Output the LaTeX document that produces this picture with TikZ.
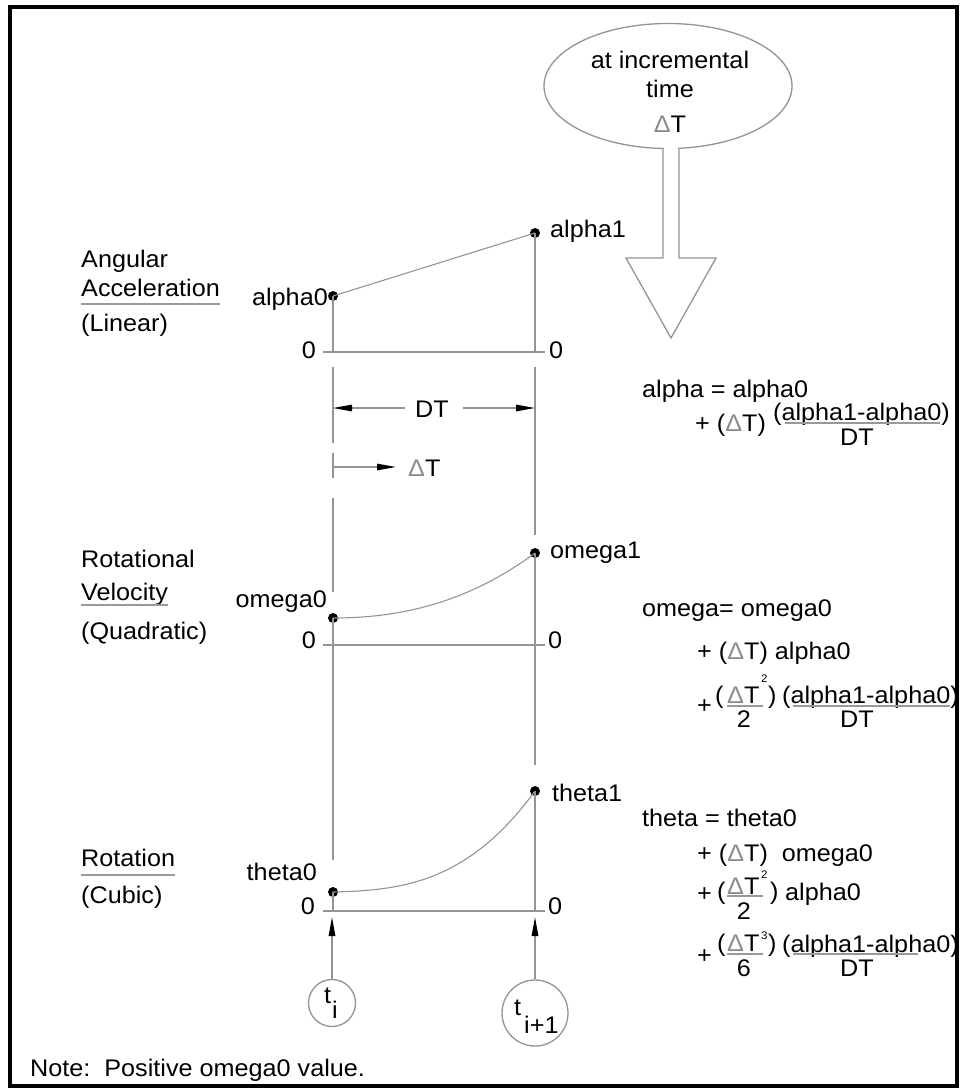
\documentclass[tikz,border=0pt]{standalone}
\usepackage{fontspec}
\setmainfont{Liberation Sans}[FakeStretch=1.05]
\usetikzlibrary{arrows.meta}
\newcommand\fs{\fontsize{24}{28}\selectfont}
\newcommand\sfs{\fontsize{11}{12}\selectfont}
\newcommand\Dl{{\color{black!45}Δ}}
\begin{document}
\begin{tikzpicture}[x=1pt,y=-1pt,
  ln/.style={draw=black!42, line width=1.3pt},
  tx/.style={font=\fs, inner sep=0pt, anchor=base west},
  txe/.style={tx, anchor=base east},
  txc/.style={tx, anchor=base},
  sup/.style={font=\sfs, inner sep=0pt, anchor=base west},
  dotc/.style={circle, fill=black, inner sep=0pt, minimum size=10pt},
  arr/.style={ln, -{Triangle[length=19pt,width=6.5pt,color=black]}},
  bar/.style={draw=black!40, line width=1.3pt},
  tcirc/.style={circle, draw=black!42, line width=1.3pt, inner sep=0pt}
]
\useasboundingbox (0,0) rectangle (964,1088);
\draw[line width=3.5pt] (10,7) rectangle (957,1086);

% ellipse and hollow arrow
\draw[ln] (668,86) ellipse [x radius=124, y radius=62.5];
\fill[white] (664,142) rectangle (678,152);
\draw[ln] (663,148.4) -- (663,258) -- (626,258) -- (671,338) -- (716,258) -- (679,258) -- (679,148.3);
\node[txc] (e1) at (670,68) {at incremental};
\node[txc] (e2) at (670,97) {time};
\node[txc] (e3) at (670,132) {\Dl T};

% left labels
\node[tx] (lAng) at (81,267) {Angular};
\node[tx] (lAcc) at (81,296) {Acceleration};
\draw[bar] ([yshift=-8pt]lAcc.base west) -- ([yshift=-8pt]lAcc.base east);
\node[tx] (lLin) at (81,331) {(Linear)};
\node[tx] (lRotl) at (81,567) {Rotational};
\node[tx] (lVel) at (81,600) {Velocity};
\draw[bar] ([yshift=-5pt]lVel.base west) -- ([yshift=-5pt]lVel.base east);
\node[tx] (lQua) at (81,639) {(Quadratic)};
\node[tx] (lRot) at (81,866) {Rotation};
\draw[bar] ([yshift=-9pt]lRot.base west) -- ([yshift=-9pt]lRot.base east);
\node[tx] (lCub) at (81,903) {(Cubic)};

% dots
\node[dotc] (a0) at (333,296) {};
\node[dotc] (a1) at (535,233) {};
\node[dotc] (w0) at (333,618) {};
\node[dotc] (w1) at (535,553) {};
\node[dotc] (h0) at (333,892) {};
\node[dotc] (h1) at (535,791) {};

% zero lines
\draw[ln] (323,352) coordinate (z1l) -- (545,352) coordinate (z1r);
\draw[ln] (323,645) coordinate (z2l) -- (545,645) coordinate (z2r);
\draw[ln] (323,911) coordinate (z3l) -- (545,911) coordinate (z3r);

% vertical lines
\draw[ln] (a0.center) -- (333,352);
\draw[ln] (333,367) -- (333,443);
\draw[ln] (333,453) -- (333,478);
\draw[ln] (333,498) -- (333,592);
\draw[ln] (w0.center) -- (333,860);
\draw[ln] (h0.center) -- (333,911);
\draw[ln] (a1.center) -- (535,352);
\draw[ln] (535,367) -- (535,535);
\draw[ln] (w1.center) -- (535,765);
\draw[ln] (h1.center) -- (535,911);

% graphs
\draw[ln, line width=1.1pt] (a0.center) -- (a1.center);
\draw[ln, line width=1.1pt] plot[domain=0:1, samples=40] ({333+202*\x}, {618-65*(0.7*\x*\x+0.3*\x*\x*\x)});
\draw[ln, line width=1.1pt] plot[domain=0:1, samples=40] ({333+202*\x}, {892-101*(0.05*\x+0.15*\x*\x+0.8*\x*\x*\x)});

% value labels
\node[txe] (la0) at (328,305) {alpha0};
\node[tx] (la1) at (550,237) {alpha1};
\node[txe] (lw0) at (327,607) {omega0};
\node[tx] (lw1) at (550,558) {omega1};
\node[txe] (lh0) at (317,880) {theta0};
\node[tx] (lh1) at (552,801) {theta1};
\node[txe] (o1l) at (316,358) {0};
\node[tx] (o1r) at (549,358) {0};
\node[txe] (o2l) at (316,648) {0};
\node[tx] (o2r) at (548,648) {0};
\node[txe] (o3l) at (315,914) {0};
\node[tx] (o3r) at (548,914) {0};

% dimensions
\node[txc] (dt) at (432,417) {DT};
\draw[arr] (405,408) -- (333,408);
\draw[arr] (463,408) -- (535,408);
\node[tx] (dT) at (408,476) {\Dl T};
\draw[arr] (333,467) -- (396,467);

% alpha equation
\node[tx] (ea1) at (642,397) {alpha = alpha0};
\node[tx] (ea2) at (695,431) {+ (\Dl T)};
\node[tx] (ea3) at (773,420) {(alpha1-alpha0)};
\draw[bar] (785,423) -- (940,423);
\node[txc] (ea4) at (857,445) {DT};

% omega equation
\node[tx] (ew1) at (642,616) {omega= omega0};
\node[tx] (ew2) at (697,659) {+ (\Dl T) alpha0};
\node[tx] (ew3) at (697,713) {+};
\node[tx] (ew4) at (715,703) {(};
\node[tx] (ew5) at (727,703) {\Dl T};
\node[sup] (ew6) at (761,682) {2};
\draw[bar] (727,706) -- (763,706);
\node[txc] (ew7) at (744,727) {2};
\node[tx] (ew8) at (768,703) {)};
\node[tx] (ew9) at (782,703) {(alpha1-alpha0)};
\draw[bar] (793,706) -- (950,706);
\node[txc] (ew10) at (857,727) {DT};

% theta equation
\node[tx] (eh1) at (642,826) {theta = theta0};
\node[tx] (eh2) at (697,861) {+ (\Dl T)\ \ omega0};
\node[tx] (eh3) at (697,901) {+};
\node[tx] (eh4) at (717,899) {(};
\node[tx] (eh5) at (727,894) {\Dl T};
\node[sup] (eh6) at (761,878) {2};
\draw[bar] (727,896) -- (763,896);
\node[txc] (eh7) at (744,919) {2};
\node[tx] (eh8) at (770,899) {)};
\node[tx] (eh9) at (785,900) {alpha0};
\node[tx] (eh10) at (697,963) {+};
\node[tx] (eh11) at (717,951) {(};
\node[tx] (eh12) at (727,951) {\Dl T};
\node[sup] (eh13) at (761,939) {3};
\draw[bar] (727,954) -- (763,954);
\node[txc] (eh14) at (744,976) {6};
\node[tx] (eh15) at (768,951) {)};
\node[tx] (eh16) at (782,952) {(alpha1-alpha0)};
\draw[bar] (793,954) -- (918,954);
\node[txc] (eh17) at (857,976) {DT};

% time circles
\node[tcirc, minimum size=47pt] (ti) at (332,1003) {};
\node[tcirc, minimum size=66pt] (ti1) at (535,1013) {};
\node[tx] (tit) at (324,1003) {t};
\node[tx] (tii) at (332,1018) {i};
\node[tx] (ti1t) at (514,1015) {t};
\node[tx] (ti1i) at (524,1033) {i+1};
\draw[arr] (ti.north) -- (332,917);
\draw[arr] (ti1.north) -- (535,917);

% note
\node[tx] (note) at (30,1076) {Note:\ \ Positive omega0 value.};
\end{tikzpicture}
\end{document}
